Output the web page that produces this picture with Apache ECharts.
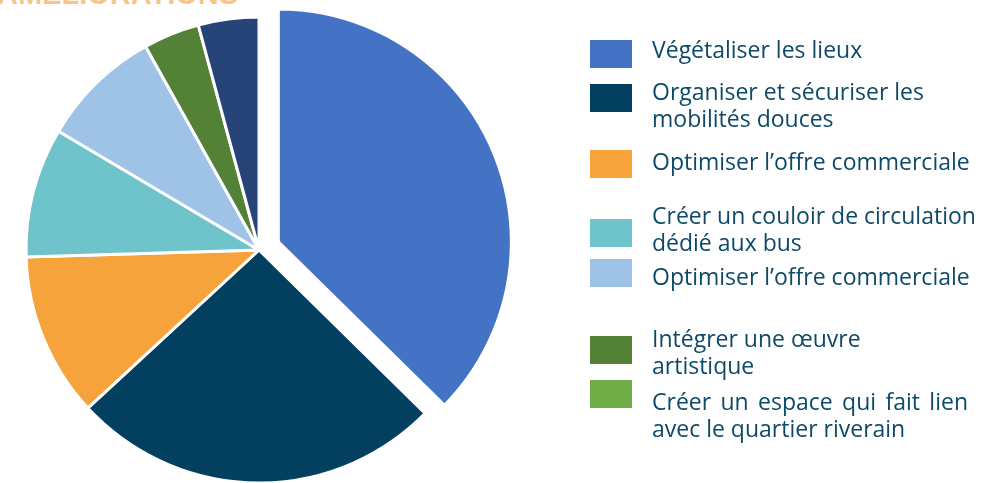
<!DOCTYPE html>
<html>
<head>
<meta charset="utf-8">
<script src="https://cdn.jsdelivr.net/npm/echarts@6/dist/echarts.min.js"></script>
<style>
  html, body { margin: 0; padding: 0; background: #ffffff; }
  #chart { width: 1001px; height: 483px; }
</style>
</head>
<body>
<div id="chart"></div>
<script>
// Slice names, shares (%) and colours, clockwise from 12 o'clock
const sliceNames = [
  'Végétaliser les lieux',
  'Organiser et sécuriser les mobilités douces',
  'Optimiser l’offre commerciale',
  'Créer un couloir de circulation dédié aux bus',
  'Optimiser l’offre commerciale (2)',
  'Intégrer une œuvre artistique',
  'Créer un espace qui fait lien avec le quartier riverain'
];
const sliceValues = [37.4, 25.8, 11.4, 9.0, 8.4, 3.9, 4.2];
const sliceColors = ['#4472C4', '#033F5E', '#F5A33A', '#6FC3CA', '#9EC3E6', '#538135', '#264478'];

// Key entries: each entry is a swatch colour and its text lines
const legendColors = ['#4472C4', '#033F5E', '#F5A33A', '#6FC3CA', '#9EC3E6', '#538135', '#70AD47'];
const legendLines = [
  ['Végétaliser les lieux'],
  ['Organiser et sécuriser les', 'mobilités douces'],
  ['Optimiser l’offre commerciale'],
  ['Créer un couloir de circulation', 'dédié aux bus'],
  ['Optimiser l’offre commerciale'],
  ['Intégrer une œuvre', 'artistique'],
  ['Créer un espace qui fait lien', 'avec le quartier riverain']
];
const titleText = 'AMÉLIORATIONS';

// Layout of the key
const swatchX = 590, swatchW = 42, swatchH = 28;
const textX = 652, lineH = 26.5;
const swatchTops = [40, 84, 150, 219, 259, 336, 380];
const textTops = [40, 82, 152, 206, 267, 329, 392];
const justifyWidth = 316;
const FONT_FAMILY = 'Open Sans';
const FONT_SIZE = 23;
const TEXT_COLOR = '#0E4A67';

const measureCtx = document.createElement('canvas').getContext('2d');
measureCtx.font = FONT_SIZE + 'px "' + FONT_FAMILY + '"';

const graphics = [];
// heading, mostly above the top edge of the canvas
graphics.push({
  type: 'text', x: -3, y: -19, z: 10,
  style: {
    text: titleText, fontFamily: 'Liberation Sans', fontWeight: 'bold', fontSize: 29,
    fill: '#F9C48C', verticalAlign: 'top'
  }
});

legendLines.forEach((lines, i) => {
  graphics.push({
    type: 'rect',
    shape: { x: swatchX, y: swatchTops[i], width: swatchW, height: swatchH },
    style: { fill: legendColors[i] }
  });
  lines.forEach((line, j) => {
    const y = textTops[i] + j * lineH;
    // the first line of the last entry is justified to the full key width
    if (i === legendLines.length - 1 && j === 0) {
      const words = line.split(' ');
      const wordsW = words.reduce((s, w) => s + measureCtx.measureText(w).width, 0);
      const gap = (justifyWidth - wordsW) / (words.length - 1);
      let x = textX;
      words.forEach(w => {
        graphics.push({
          type: 'text', x: x, y: y,
          style: { text: w, fontFamily: FONT_FAMILY, fontSize: FONT_SIZE, fill: TEXT_COLOR }
        });
        x += measureCtx.measureText(w).width + gap;
      });
    } else {
      graphics.push({
        type: 'text', x: textX, y: y,
        style: { text: line, fontFamily: FONT_FAMILY, fontSize: FONT_SIZE, fill: TEXT_COLOR }
      });
    }
  });
});

const chart = echarts.init(document.getElementById('chart'), null, { renderer: 'canvas' });
chart.setOption({
  backgroundColor: '#ffffff',
  animation: false,
  graphic: graphics,
  series: [{
    type: 'pie',
    center: [259, 250],
    radius: 233,
    startAngle: 90,
    clockwise: true,
    selectedMode: 'single',
    selectedOffset: 21,
    label: { show: false },
    labelLine: { show: false },
    emphasis: { disabled: true },
    itemStyle: { borderColor: '#ffffff', borderWidth: 3 },
    data: sliceValues.map((v, i) => ({
      name: sliceNames[i],
      value: v,
      selected: i === 0,
      itemStyle: { color: sliceColors[i] }
    }))
  }]
});
</script>
</body>
</html>
